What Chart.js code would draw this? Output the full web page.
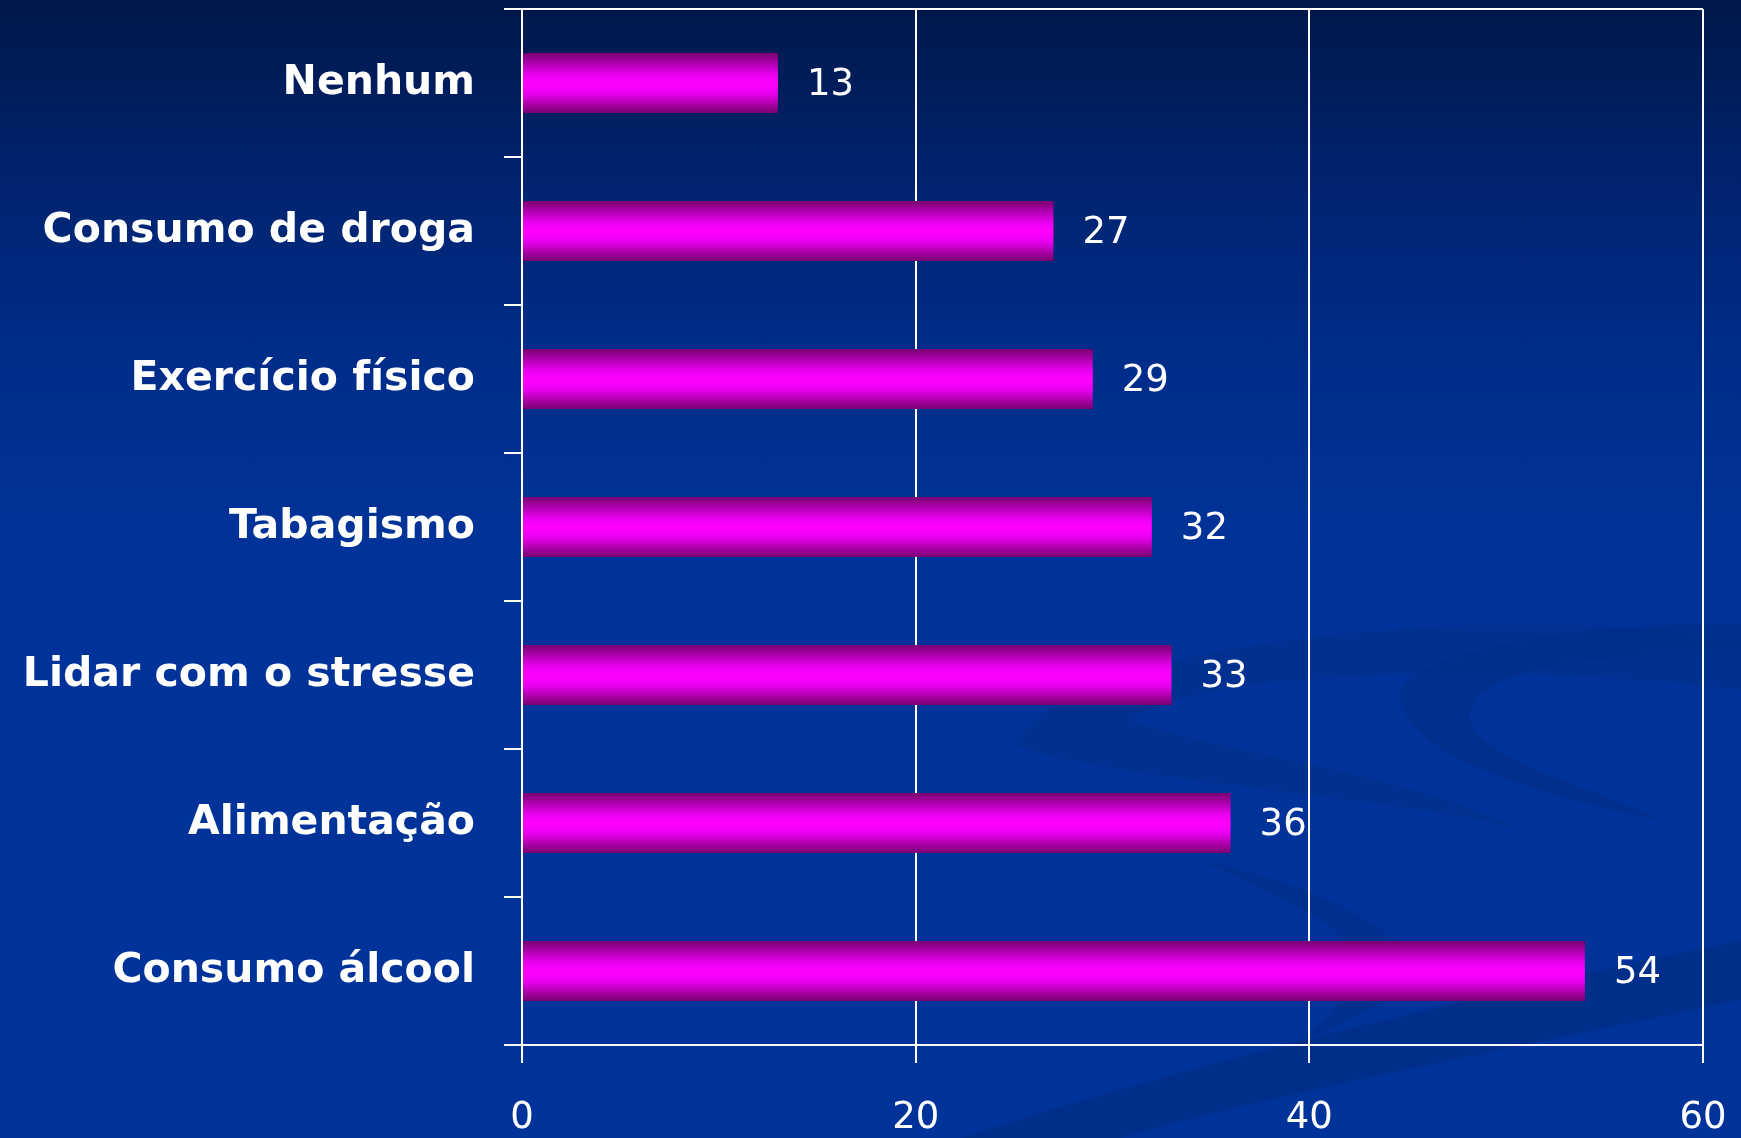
<!DOCTYPE html>
<html>
<head>
<meta charset="utf-8">
<script src="https://cdn.jsdelivr.net/npm/chart.js@4"></script>
<style>
html,body{margin:0;padding:0;width:1741px;height:1138px;overflow:hidden;}
body{background:linear-gradient(to bottom,#00184a 0%,#00226a 14%,#002c88 30%,#003399 48%,#003399 100%);position:relative;}
#deco{position:absolute;left:0;top:0;width:1741px;height:1138px;}
#wrap{position:absolute;left:0;top:0;width:1741px;height:1138px;}
</style>
</head>
<body>
<svg id="deco" viewBox="0 0 1741 1138" xmlns="http://www.w3.org/2000/svg">
  <path d="M1015 745 C1060 640 1500 600 1741 640 L1741 690 C1500 660 1200 670 1130 720 C1250 760 1400 770 1520 830 C1430 800 1100 780 1015 745 Z" fill="#00308f" opacity="0.9"/>
  <path d="M1400 700 C1390 660 1560 620 1741 625 L1741 655 C1600 650 1460 670 1470 720 C1480 760 1600 790 1660 820 C1560 800 1410 760 1400 700 Z" fill="#002f8c" opacity="0.9"/>
  <path d="M960 1138 C1200 1060 1500 990 1741 940 L1741 1000 C1500 1050 1250 1100 1120 1138 Z" fill="#002f8a" opacity="0.9"/>
  <path d="M1200 860 C1300 880 1420 930 1410 980 C1380 1010 1330 1030 1300 1040 C1350 1000 1380 960 1320 920 C1290 900 1240 880 1200 860 Z" fill="#002f8c" opacity="0.8"/>
</svg>
<div id="wrap"><canvas id="c" width="1741" height="1138"></canvas></div>
<script>
const categories = ["Nenhum","Consumo de droga","Exercício físico","Tabagismo","Lidar com o stresse","Alimentação","Consumo álcool"];
const values = [13,27,29,32,33,36,54];
const xTicks = [0,20,40,60];

const BAR_PCT = 0.405;

function barGradient(ctx){
  const chart = ctx.chart;
  const ys = chart.scales && chart.scales.y;
  if(!ys || ctx.dataIndex === undefined) return '#ff00ff';
  const c = ys.getPixelForValue(ctx.dataIndex);
  const h = (ys.height / categories.length) * BAR_PCT;
  if(!isFinite(c) || !isFinite(h) || h <= 0) return '#ff00ff';
  const g = chart.ctx.createLinearGradient(0, c - h/2, 0, c + h/2);
  g.addColorStop(0, '#780070');
  g.addColorStop(0.35, '#e800ee');
  g.addColorStop(0.5, '#ff00ff');
  g.addColorStop(0.68, '#e800ee');
  g.addColorStop(1, '#780070');
  return g;
}

const valueLabels = {
  id:'valueLabels',
  afterDatasetsDraw(chart){
    const ctx = chart.ctx;
    const meta = chart.getDatasetMeta(0);
    ctx.save();
    ctx.fillStyle = '#ffffff';
    ctx.font = "37px 'DejaVu Sans', sans-serif";
    ctx.textAlign = 'left';
    ctx.textBaseline = 'middle';
    meta.data.forEach((el,i)=>{
      ctx.fillText(String(values[i]), el.x + 29, el.y + 2);
    });
    ctx.restore();
  }
};

new Chart(document.getElementById('c'), {
  type:'bar',
  data:{
    labels: categories,
    datasets:[{
      data: values,
      backgroundColor: barGradient,
      borderWidth:0,
      barPercentage: BAR_PCT,
      categoryPercentage: 1.0
    }]
  },
  options:{
    indexAxis:'y',
    responsive:false,
    animation:false,
    devicePixelRatio:1,
    layout:{padding:{top:9,right:38,left:0,bottom:0}},
    plugins:{legend:{display:false},tooltip:{enabled:false},title:{display:false}},
    scales:{
      x:{
        min:0,max:60,
        afterBuildTicks(scale){ scale.ticks = xTicks.map(v=>({value:v})); },
        afterFit(scale){ scale.height = 93; scale.paddingLeft = 0; scale.paddingRight = 0; },
        border:{color:'#ffffff',width:2},
        grid:{color:'#ffffff',lineWidth:2,tickLength:18,tickColor:'#ffffff',tickWidth:2},
        ticks:{color:'#ffffff',font:{family:"'DejaVu Sans', sans-serif",size:37},padding:33,maxRotation:0}
      },
      y:{
        afterFit(scale){ scale.width = 522; scale.paddingTop = 0; scale.paddingBottom = 0; },
        border:{color:'#ffffff',width:2},
        grid:{
          offset:true,
          drawOnChartArea:true,
          color:(c)=> c.index===0 ? '#ffffff' : 'rgba(0,0,0,0)',
          tickColor:'#ffffff',
          lineWidth:2,
          tickLength:18
        },
        ticks:{color:'#ffffff',font:{family:"'DejaVu Sans', sans-serif",size:41,weight:'bold'},padding:29}
      }
    }
  },
  plugins:[valueLabels]
});
</script>
</body>
</html>
